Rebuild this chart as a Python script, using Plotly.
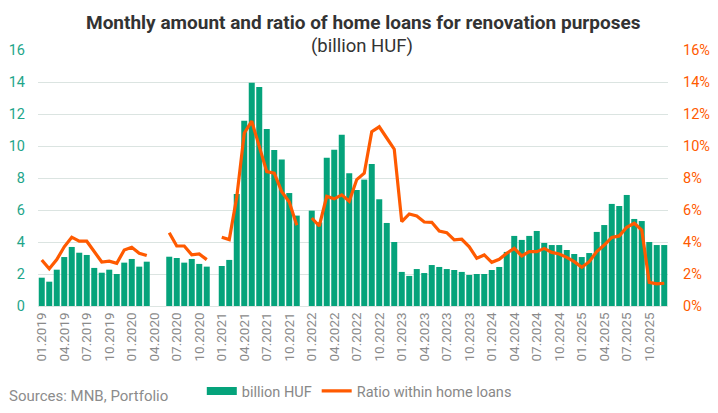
import plotly.graph_objects as go

# ---- data ----
years = [2019, 2020, 2021, 2022, 2023, 2024, 2025]
months = [f"{m:02d}.{y}" for y in years for m in range(1, 13)]

amount_bn_huf = [
    1.77, 1.52, 2.27, 3.06, 3.69, 3.33, 3.19, 2.38, 2.08, 2.27, 2.0, 2.71,
    2.94, 2.46, 2.77, None, None, 3.08, 3.0, 2.71, 2.94, 2.63, 2.46, None,
    2.5, 2.88, 7.0, 11.58, 13.96, 13.69, 11.06, 9.75, 9.15, 7.06, 5.65, None,
    5.96, 5.23, 9.27, 9.77, 10.7, 8.3, 7.25, 7.9, 8.88, 6.67, 5.19, 4.0,
    2.13, 1.88, 2.31, 2.06, 2.56, 2.44, 2.31, 2.25, 2.13, 1.94, 2.0, 2.0,
    2.25, 2.44, 3.38, 4.38, 4.13, 4.38, 4.69, 3.94, 3.81, 3.81, 3.5, 3.25,
    3.06, 3.31, 4.63, 5.06, 6.38, 6.25, 6.94, 5.44, 5.31, 4.0, 3.81, 3.81,
]

ratio_pct = [
    2.88, 2.33, 2.9, 3.7, 4.3, 4.05, 4.05, 3.4, 2.75, 2.8, 2.67, 3.5,
    3.67, 3.3, 3.15, None, None, 4.58, 3.75, 3.75, 3.2, 3.25, 2.9, None,
    4.3, 4.15, 6.8, 10.8, 11.55, 9.95, 8.4, 8.3, 7.15, 6.5, 5.05, None,
    5.5, 5.0, 6.85, 6.7, 6.95, 6.55, 7.9, 8.3, 10.9, 11.2, 10.5, 9.8,
    5.27, 5.75, 5.63, 5.25, 5.23, 4.69, 4.58, 4.13, 4.17, 3.7, 2.98, 3.19,
    2.73, 2.92, 3.3, 3.6, 3.13, 3.4, 3.4, 3.6, 3.35, 3.25, 3.04, 2.77,
    2.42, 2.77, 3.4, 3.81, 4.29, 4.38, 4.92, 5.17, 4.75, 1.48, 1.38, 1.42,
]

y_ticks = [0, 2, 4, 6, 8, 10, 12, 14, 16]

GREEN = "#05a37b"
ORANGE = "#ff5a00"
FONT = "Roboto"

idx = list(range(len(months)))
tick_idx = idx[::3]
tick_txt = months[::3]

fig = go.Figure()
fig.add_trace(go.Bar(
    x=idx, y=amount_bn_huf, name="billion HUF", marker_color=GREEN,
    marker_line_width=0, showlegend=False, yaxis="y",
))
# legend proxy for the bar series (wide rectangle like the reference)
fig.add_trace(go.Scatter(
    x=[None], y=[None], mode="lines", name="billion HUF",
    line=dict(color=GREEN, width=8), showlegend=True,
))
fig.add_trace(go.Scatter(
    x=idx, y=ratio_pct, name="Ratio within home loans", mode="lines",
    line=dict(color=ORANGE, width=3.2), connectgaps=False, yaxis="y2",
))

fig.update_layout(
    width=718, height=413,
    margin=dict(l=38, r=50, t=50, b=107, autoexpand=False),
    paper_bgcolor="white", plot_bgcolor="white",
    font=dict(family=FONT, size=14, color="#888888"),
    bargap=0.2,
    showlegend=True,
    legend=dict(
        orientation="h", x=0.26, y=-0.332, xanchor="left", yanchor="middle",
        font=dict(size=14.5, color="#888888"), itemwidth=30,
        bgcolor="rgba(0,0,0,0)",
    ),
    xaxis=dict(
        range=[-0.5, len(months) - 0.5], tickmode="array",
        tickvals=tick_idx, ticktext=tick_txt, tickangle=-90,
        tickfont=dict(size=13.5, color="#8a8a8a"), showgrid=False,
        showline=True, linecolor="#dde5e2", linewidth=1, ticks="",
        zeroline=False, automargin=False,
    ),
    yaxis=dict(
        range=[0, 16], tickvals=y_ticks, showgrid=True, gridcolor="#dbe4e1",
        gridwidth=1, zeroline=False, tickfont=dict(size=14.5, color="#1ea58a"),
        ticks="", ticklabelstandoff=12, automargin=False,
    ),
    yaxis2=dict(
        range=[0, 16], tickvals=y_ticks, ticktext=[f"{v}%" for v in y_ticks],
        overlaying="y", side="right", showgrid=False, zeroline=False,
        tickfont=dict(size=14.5, color=ORANGE), ticks="", ticklabelstandoff=14,
        automargin=False,
    ),
    annotations=[
        dict(text="<b>Monthly amount and ratio of home loans for renovation purposes</b>",
             xref="paper", yref="paper", x=0.517, y=1.107, xanchor="center",
             yanchor="middle", showarrow=False,
             font=dict(family=FONT, size=19, color="#333333")),
        dict(text="(billion HUF)", xref="paper", yref="paper", x=0.515, y=1.016,
             xanchor="center", yanchor="middle", showarrow=False,
             font=dict(family=FONT, size=18.5, color="#333333")),
        dict(text="Sources: MNB, Portfolio", xref="paper", yref="paper",
             x=-0.0495, y=-0.352, xanchor="left", yanchor="middle",
             showarrow=False, font=dict(family=FONT, size=15, color="#8c8c8c")),
    ],
)

fig.write_html("out.html", config={"displayModeBar": False},
               post_script="document.body.style.margin='0px';")
